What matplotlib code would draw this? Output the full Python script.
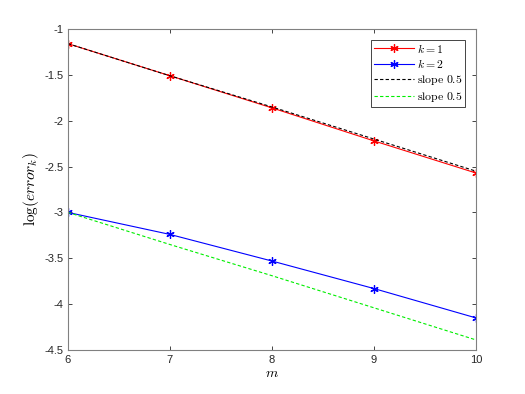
import matplotlib
matplotlib.use("Agg")
import matplotlib.pyplot as plt

m = [6, 7, 8, 9, 10]
err_k1 = [-1.16, -1.51, -1.86, -2.22, -2.57]
err_k2 = [-3.00, -3.24, -3.53, -3.83, -4.15]
slope_k1 = [-1.16, -1.51, -1.85, -2.20, -2.55]
slope_k2 = [-3.00, -3.35, -3.69, -4.04, -4.39]
xticks = [6, 7, 8, 9, 10]
yticks = [-4.5, -4, -3.5, -3, -2.5, -2, -1.5, -1]

plt.rcParams['mathtext.fontset'] = 'cm'
plt.rcParams['font.family'] = ['Liberation Sans', 'DejaVu Sans']

fig = plt.figure(figsize=(5.25, 3.94), dpi=100)
ax = fig.add_axes([0.1295, 0.1117, 0.777, 0.8147])

ast = (6, 2, 0)
ax.plot(m, err_k1, color='red', lw=0.8, marker=ast, ms=6, mew=0.9, label=r'$k=1$')
ax.plot(m, err_k2, color='blue', lw=0.8, marker=ast, ms=6, mew=0.9, label=r'$k=2$')
ax.plot(m, slope_k1, color='black', lw=0.8, ls=(0, (3, 2)), label=r'$\mathrm{slope\ 0.5}$')
ax.plot(m, slope_k2, color='#00ee00', lw=0.8, ls=(0, (3, 2)), label=r'$\mathrm{slope\ 0.5}$')

ax.set_xlim(6, 10)
ax.set_ylim(-4.5, -1)
ax.set_xticks(xticks)
ax.set_xticklabels([str(v) for v in xticks])
ax.set_yticks(yticks)
ax.set_yticklabels([('%g' % v) for v in yticks])
ax.tick_params(direction='in', length=3, width=0.6, colors='#262626', labelsize=8, top=True, right=True)
for s in ax.spines.values():
    s.set_color('#808080')
    s.set_linewidth(0.8)

ax.set_xlabel(r'$m$', fontsize=10, labelpad=1)
ax.set_ylabel(r'$\log(error_k)$', fontsize=11, labelpad=2)

leg = ax.legend(loc='upper right', fontsize=8.5, frameon=True, fancybox=False,
                edgecolor='#262626', framealpha=1, borderpad=0.25, labelspacing=0.2,
                handlelength=3.4, handletextpad=0.2, borderaxespad=0.9)
leg.get_frame().set_linewidth(0.6)

fig.savefig('out.png', dpi=100)
